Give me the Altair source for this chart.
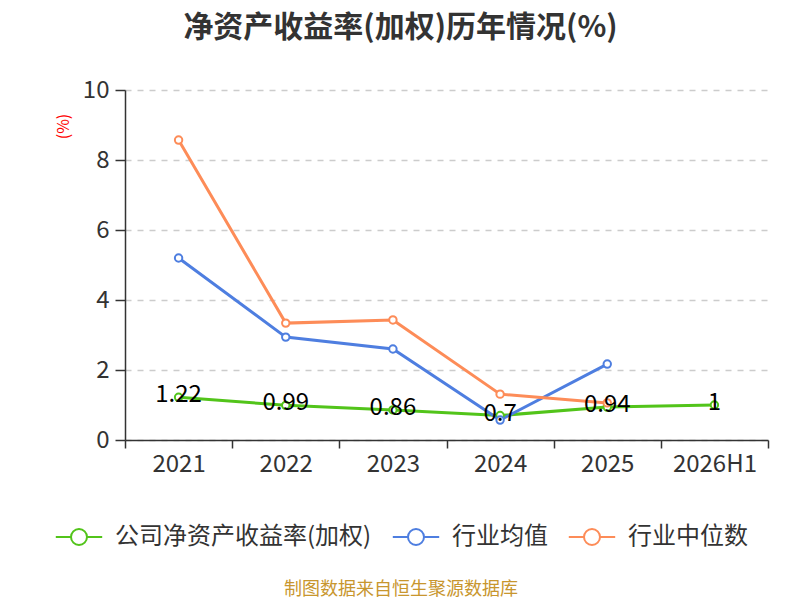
import altair as alt
import pandas as pd

years = ["2021", "2022", "2023", "2024", "2025", "2026H1"]
company = [1.22, 0.99, 0.86, 0.70, 0.94, 1.00]
ind_mean = [5.20, 2.94, 2.60, 0.57, 2.17, None]
ind_median = [8.57, 3.34, 3.43, 1.31, 1.06, None]
series_names = ["公司净资产收益率(加权)", "行业均值", "行业中位数"]
colors = ["#52c41a", "#4e7ee0", "#fd8c58"]
y_ticks = [0, 2, 4, 6, 8, 10]
title_text = "净资产收益率(加权)历年情况(%)"
footer_text = "制图数据来自恒生聚源数据库"

FONT = "Noto Sans CJK SC"

rows = []
for name, vals in zip(series_names, [company, ind_mean, ind_median]):
    for yr, v in zip(years, vals):
        if v is not None:
            rows.append({"year": yr, "series": name, "value": v})
df = pd.DataFrame(rows)

sym_path = "M-2.9,0L-1,0M1,0L2.9,0M-1,0A1,1,0,1,1,1,0A1,1,0,1,1,-1,0"

x_enc = alt.X(
    "year:N",
    sort=years,
    scale=alt.Scale(type="band", domain=years, paddingInner=0, paddingOuter=0),
    axis=alt.Axis(
        title=None,
        labelAngle=0,
        tickBand="extent",
        labelFontSize=24,
        labelColor="#333333",
        labelFont=FONT,
        labelPadding=4,
        tickSize=8,
        tickColor="#333333",
        tickWidth=1.5,
        domainColor="#333333",
        domainWidth=1.5,
        grid=False,
    ),
)
y_enc = alt.Y(
    "value:Q",
    scale=alt.Scale(domain=[0, 10], nice=False),
    axis=alt.Axis(
        title="(%)",
        titleColor="#ff0000",
        titleFontSize=16,
        titleFontWeight="normal",
        titleFont=FONT,
        titleX=-62,
        titleY=36,
        titleAngle=270,
        titleAlign="center",
        titleBaseline="middle",
        values=y_ticks,
        labelFontSize=24,
        labelColor="#333333",
        labelFont=FONT,
        labelPadding=6,
        tickSize=10,
        tickColor="#333333",
        tickWidth=1.5,
        domainColor="#333333",
        domainWidth=1.5,
        grid=True,
        gridColor="#cccccc",
        gridDash=[6, 6],
        gridWidth=1.5,
    ),
)
color_enc = alt.Color(
    "series:N",
    scale=alt.Scale(domain=series_names, range=colors),
    sort=series_names,
    legend=alt.Legend(
        orient="none",
        legendX=-58,
        legendY=435,
        direction="horizontal",
        title=None,
        symbolType=sym_path,
        symbolSize=256,
        symbolStrokeWidth=2,
        symbolFillColor="white",
        labelFontSize=24,
        labelColor="#333333",
        labelFont=FONT,
        labelOffset=24,
        labelLimit=400,
        columnPadding=16,
        padding=0,
    ),
)

base = alt.Chart(df)
lines = base.mark_line(strokeWidth=3).encode(x=x_enc, y=y_enc, color=color_enc)
points = base.mark_point(filled=False, fill="white", size=55, strokeWidth=2, opacity=1).encode(
    x=x_enc, y=y_enc, color=color_enc
)
labels = (
    base.transform_filter(alt.datum.series == series_names[0])
    .mark_text(fontSize=24, font=FONT, color="#000000", dy=-2, baseline="middle")
    .encode(x=x_enc, y=y_enc, text=alt.Text("value:Q", format="~g"))
)
footer = (
    alt.Chart(pd.DataFrame({"t": [footer_text]}))
    .mark_text(fontSize=18, font=FONT, color="#c8962e", baseline="middle", align="center")
    .encode(x=alt.value(276), y=alt.value(500), text="t:N")
)

chart = (
    alt.layer(lines, points, labels, footer)
    .properties(
        width=643,
        height=350,
        autosize=alt.AutoSizeParams(type="none"),
        padding={"left": 117, "top": 82, "right": 20, "bottom": 160},
        title=alt.TitleParams(
            text=title_text,
            fontSize=30,
            fontWeight="bold",
            color="#333333",
            font=FONT,
            anchor="middle",
            frame="group",
            dx=-46,
            offset=35,
        ),
    )
    .configure_view(stroke=None)
)

chart.save("out.html", embed_options={"renderer": "svg", "actions": False})
